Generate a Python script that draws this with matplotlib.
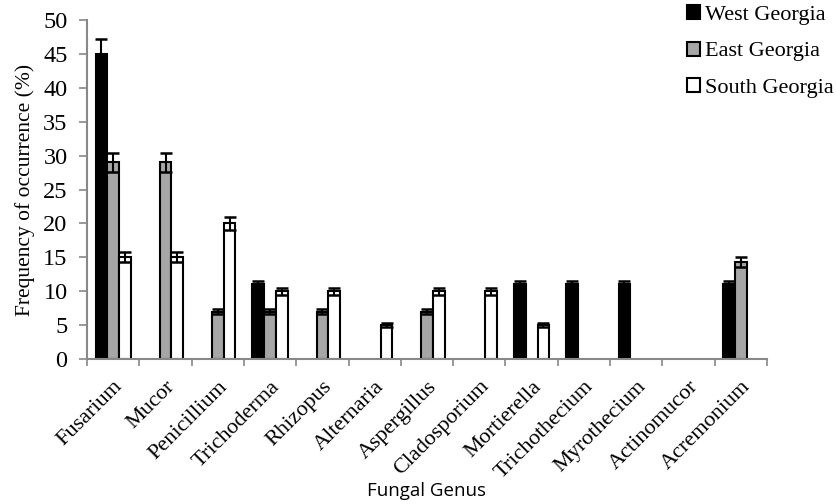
import numpy as np
import matplotlib.pyplot as plt
import matplotlib.transforms as mtransforms

genus = ['Fusarium', 'Mucor', 'Penicillium', 'Trichoderma', 'Rhizopus',
         'Alternaria', 'Aspergillus', 'Cladosporium', 'Mortierella',
         'Trichothecium', 'Myrothecium', 'Actinomucor', 'Acremonium']
west = [45, 0, 0, 11, 0, 0, 0, 0, 11, 11, 11, 0, 11]
east = [29, 29, 7, 7, 7, 0, 7, 0, 0, 0, 0, 0, 14.3]
south = [15, 15, 20, 10, 10, 5, 10, 10, 5, 0, 0, 0, 0]
# error bars are about 5% of the value
err_frac = 0.05

plt.rcParams['font.family'] = ['Liberation Serif', 'DejaVu Serif']

fig = plt.figure(figsize=(8.37, 5.04), dpi=100)
ax = fig.add_axes([0.104, 0.2877, 0.8124, 0.6726])

x = np.arange(len(genus))
w = 0.225
ekw = dict(elinewidth=1.5, capthick=1.8, ecolor='black')

series = [(west, 'black', 'West Georgia', -w),
          (east, '#a6a6a6', 'East Georgia', 0),
          (south, 'white', 'South Georgia', w)]
for vals, col, lab, off in series:
    v = np.array(vals, dtype=float)
    v[v == 0] = np.nan  # empty cells draw nothing
    ax.bar(x + off, v, w, color=col, edgecolor='black', lw=1.5,
           yerr=v * err_frac, capsize=4.3, error_kw=ekw, label=lab)

ax.set_xlim(-0.5, len(genus) - 0.5)
ax.set_ylim(0, 50)
ax.set_yticks(range(0, 51, 5))
ax.set_xticks(np.arange(len(genus) + 1) - 0.5)
ax.set_xticklabels([])
ax.set_xticks(x, minor=True)
ax.set_xticklabels(genus, minor=True, rotation=45, ha='right', va='top',
                   rotation_mode='anchor', fontsize=16)
shift = mtransforms.ScaledTranslation(3 / 100, 0, fig.dpi_scale_trans)
for t in ax.get_xticklabels(minor=True):
    t.set_transform(t.get_transform() + shift)
ax.tick_params(axis='x', which='minor', length=0, pad=13)
ax.tick_params(axis='x', which='major', length=5, color='#888888', width=1.2)
ax.tick_params(axis='y', labelsize=17.5, length=6, pad=8, color='#888888', width=1.2)

for s in ['top', 'right']:
    ax.spines[s].set_visible(False)
for s in ['left', 'bottom']:
    ax.spines[s].set_color('#888888')
    ax.spines[s].set_linewidth(1.5)

ax.set_ylabel('Frequency of occurrence (%)', fontsize=15.5, labelpad=6)
ax.set_xlabel('Fungal Genus', fontsize=13.5, family=['Open Sans', 'DejaVu Sans'])
ax.xaxis.set_label_coords(427 / 837, 4 / 504, transform=fig.transFigure)
ax.xaxis.label.set_verticalalignment('bottom')

fig.legend(loc='upper left', bbox_to_anchor=(687 / 837, 1 - 5 / 504),
           frameon=False, fontsize=16, handlelength=0.6, handleheight=0.6,
           handletextpad=0.2, labelspacing=0.75, borderpad=0, borderaxespad=0)

fig.savefig('out.png')
